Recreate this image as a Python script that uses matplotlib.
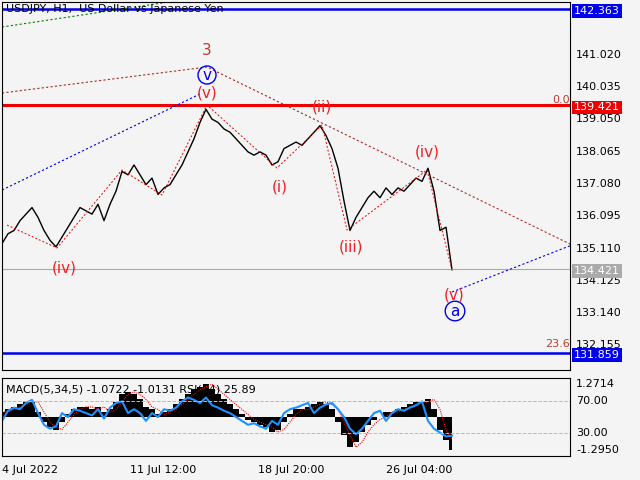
import numpy as np
import matplotlib.pyplot as plt

# close prices, one every 6 px of chart width
closes = [135.2, 135.5, 135.6, 135.9, 136.1, 136.3, 136.0, 135.6, 135.3, 135.1,
          135.4, 135.7, 136.0, 136.3, 136.2, 136.1, 136.4, 135.9, 136.4, 136.8,
          137.4, 137.3, 137.6, 137.3, 137.0, 137.2, 136.7, 136.9, 137.0, 137.3,
          137.6, 138.0, 138.4, 138.9, 139.3, 139.0, 138.9, 138.7, 138.6, 138.4,
          138.2, 138.0, 137.9, 138.0, 137.9, 137.6, 137.7, 138.1, 138.2, 138.3,
          138.2, 138.4, 138.6, 138.8, 138.5, 138.1, 137.5, 136.5, 135.6, 136.0,
          136.3, 136.6, 136.8, 136.6, 136.9, 136.7, 136.9, 136.8, 137.0, 137.2,
          137.1, 137.5, 136.8, 135.6, 135.7, 134.4]
macd = [0.2, 0.3, 0.4, 0.5, 0.6, 0.6, 0.2, -0.2, -0.4, -0.5,
        -0.2, 0.1, 0.3, 0.4, 0.4, 0.3, 0.4, 0.2, 0.3, 0.6,
        0.9, 1.0, 0.9, 0.7, 0.4, 0.3, 0.1, 0.2, 0.3, 0.5,
        0.7, 0.9, 1.1, 1.2, 1.3, 1.1, 0.9, 0.7, 0.5, 0.3,
        0.1, -0.1, -0.2, -0.3, -0.4, -0.6, -0.5, -0.2, 0.1, 0.3,
        0.3, 0.4, 0.5, 0.6, 0.5, 0.3, -0.2, -0.7, -1.2, -1.0,
        -0.6, -0.3, -0.1, 0.0, 0.2, 0.2, 0.3, 0.4, 0.5, 0.6,
        0.6, 0.7, 0.3, -0.5, -0.9, -1.3]
rsi = [45, 58, 62, 60, 68, 72, 55, 40, 35, 38,
       55, 50, 60, 58, 55, 52, 60, 48, 62, 68,
       70, 55, 60, 55, 45, 55, 50, 60, 58, 62,
       70, 75, 72, 68, 75, 65, 62, 58, 55, 50,
       45, 40, 42, 38, 35, 45, 40, 55, 60, 62,
       65, 68, 55, 62, 66, 68, 60, 50, 35, 28,
       35, 45, 55, 58, 45, 55, 60, 58, 62, 65,
       70, 45, 35, 30, 25, 26]
x = np.arange(len(closes)) * 6

price_ticks = [141.020, 140.035, 139.050, 138.065, 137.080, 136.095, 135.110, 134.125, 133.140, 132.155]
date_pos = [2, 130, 258, 386]
date_labels = ['4 Jul 2022', '11 Jul 12:00', '18 Jul 20:00', '26 Jul 04:00']


def py(p):
    # price -> pixel row
    return 9 + (142.363 - p) / 0.030535


bg = '#f4f4f4'
fig = plt.figure(figsize=(6.4, 4.8), dpi=100, facecolor=bg)
ax = fig.add_axes([2 / 640, 110 / 480, 568 / 640, 368 / 480], facecolor=bg)
ax.set_xlim(0, 568)
ax.set_ylim(370, 2)
ax.set_xticks([]); ax.set_yticks([])

ax.plot(x, [py(c) for c in closes], color='black', lw=1.0)

# levels
ax.axhline(py(142.363), color='#0000ee', lw=1.8)
ax.axhline(py(131.859), color='#0000ee', lw=1.8)
ax.axhline(py(139.421), color='#ee0000', lw=2.2)
ax.axhline(py(134.421), color='#aaaaaa', lw=0.8)

# wave lines
ax.plot([0, 180], [27, 0], color='green', ls=(0, (2, 2)), lw=0.8)
ax.plot([0, 205, 570], [93, 67, 245], color='#a52a2a', ls=(0, (2, 2)), lw=0.8)
ax.plot([0, 200], [190, 93], color='#0000ee', ls=(0, (2, 2)), lw=0.8)
ax.plot([450, 570], [292, 245], color='#0000ee', ls=(0, (2, 2)), lw=0.8)
ax.plot([5, 55, 120, 160, 205, 275, 320, 345, 425, 450],
        [225, 248, 170, 195, 105, 168, 125, 230, 170, 270],
        color='#ee0000', ls=(0, (2, 2)), lw=0.7)

lab = dict(ha='center', va='center', fontsize=11)
ax.text(205, 50, '3', color='#c0392b', **lab)
ax.text(205, 75, 'v', color='#0000ee', bbox=dict(boxstyle='circle,pad=0.1', fc='none', ec='#0000ee'), **lab)
ax.text(453, 311, 'a', color='#0000ee', bbox=dict(boxstyle='circle,pad=0.15', fc='none', ec='#0000ee'), **lab)
for t, xx, yy in [('(v)', 205, 93), ('(ii)', 320, 107), ('(i)', 278, 187), ('(iii)', 349, 247),
                  ('(iv)', 425, 152), ('(iv)', 62, 268), ('(v)', 452, 295)]:
    ax.text(xx, yy, t, color='#ee2222', **lab)
ax.text(568, 100, '0.0', color='#c0392b', fontsize=8, ha='right', va='center')
ax.text(568, 344, '23.6', color='#c0392b', fontsize=8, ha='right', va='center')
ax.text(4, 9, 'USDJPY, H1,  US Dollar vs Japanese Yen', fontsize=8, va='center')

# right price scale
for p in price_ticks:
    fig.text(576 / 640, 1 - py(p) / 480 - 2 / 480, f'{p:.3f}', fontsize=8, va='center')
for p, c in [(142.363, '#0000ee'), (139.421, '#ee0000'), (134.421, '#aaaaaa'), (131.859, '#0000ee')]:
    fig.text(574 / 640, 1 - (py(p) + 2) / 480, f'{p:.3f}', fontsize=8, va='center', color='white',
             bbox=dict(boxstyle='square,pad=0.15', fc=c, ec='none'))

# lower panel
ax2 = fig.add_axes([2 / 640, 24 / 480, 568 / 640, 78 / 480], facecolor=bg)
ax2.set_xlim(0, 568)
ax2.set_ylim(-1.55, 1.55)
ax2.set_yticks([]); ax2.set_xticks([])
ax2.fill_between(x, 0, macd, color='black', step='mid', lw=0)
sig = [macd[0]] + macd[:-1]
ax2.plot(x, sig, color='red', ls=(0, (1, 1)), lw=0.8)
rsi_m = [(r - 50) * 0.031 for r in rsi]
ax2.plot(x, rsi_m, color='#1e90ff', lw=1.5)
for r in (70, 30):
    ax2.axhline((r - 50) * 0.031, color='#bbbbbb', ls='--', lw=0.7)
ax2.text(4, 1.3, 'MACD(5,34,5) -1.0722 -1.0131 RSI(14) 25.89', fontsize=8, va='top')
for v, t in [(1.33, '1.2714'), (0.62, '70.00'), (-0.62, '30.00'), (-1.33, '-1.2950')]:
    ax2.text(574, v, t, fontsize=8, va='center', clip_on=False)

for pos, t in zip(date_pos, date_labels):
    fig.text(pos / 640, 10 / 480, t, fontsize=8, va='center')

fig.savefig('out.png', dpi=100, facecolor=bg)
